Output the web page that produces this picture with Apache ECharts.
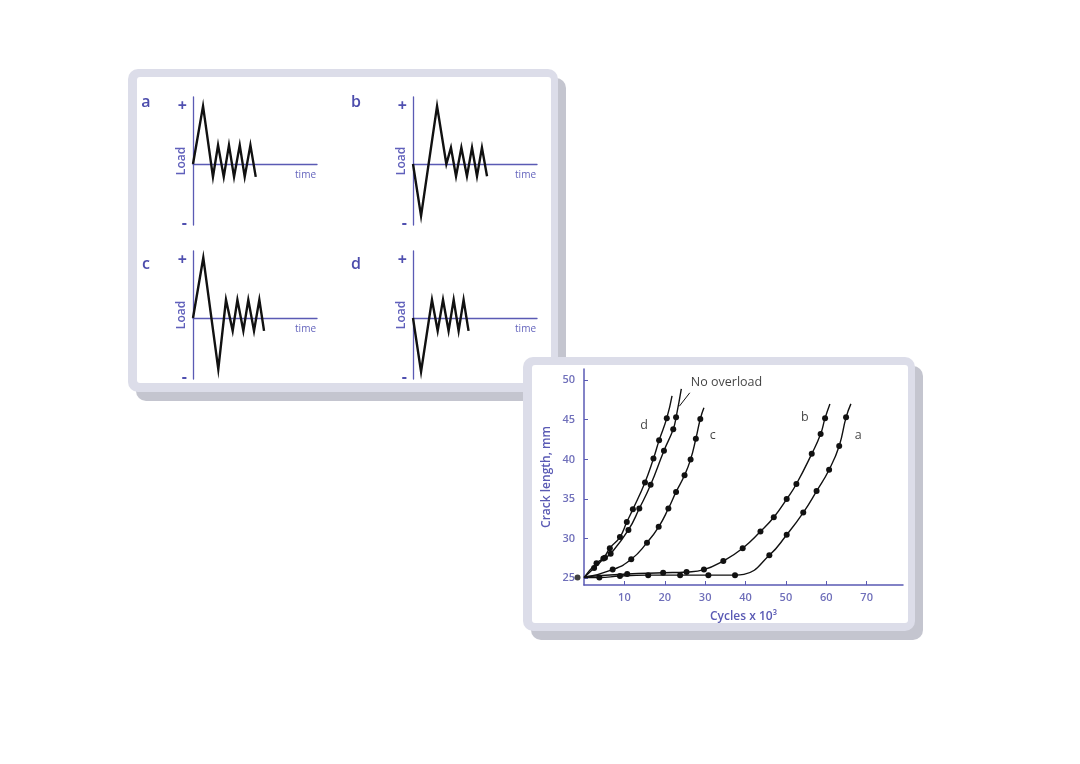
<!DOCTYPE html>
<html>
<head>
<meta charset="utf-8">
<script src="https://cdn.jsdelivr.net/npm/echarts@6/dist/echarts.min.js"></script>
<style>
html, body { margin: 0; padding: 0; background: #fff; }
#main { width: 1080px; height: 764px; }
</style>
</head>
<body>
<div id="main"></div>
<script>
// load histories: time across the axis 0-100, load normalised (1 = overload peak)
var loadA = [[0,0],[8.1,0.95],[16.1,-0.21],[20.2,0.31],[24.8,-0.21],[29,0.31],[33.1,-0.21],[37.7,0.31],[41.7,-0.21],[46.3,0.31],[50.6,-0.21]];
var loadB = [[0,0],[6.5,-0.85],[19.4,0.95],[26.9,0],[30.6,0.27],[34.7,-0.2],[39,0.27],[43.5,-0.2],[47.6,0.27],[51.6,-0.2],[55.6,0.27],[59.7,-0.2]];
var loadC = [[0,0],[8.3,0.99],[20.4,-0.84],[26.6,0.3],[32,-0.21],[35.8,0.3],[40.6,-0.21],[44.6,0.3],[49.2,-0.21],[53.5,0.3],[57.3,-0.21]];
var loadD = [[0,0],[6.5,-0.88],[15.3,0.3],[19.9,-0.21],[24.2,0.3],[28.7,-0.21],[32.8,0.3],[36.8,-0.21],[40.8,0.3],[44.8,-0.21]];
var panelNames = ['a', 'b', 'c', 'd'];
var signTicks = [-0.97, 0.95];

// crack growth: [cycles x 10^3, crack length mm]
var dotsD = [[2.5,26.3],[4.8,27.5],[6.4,28.8],[8.9,30.2],[10.6,32.1],[12.1,33.7],[15.1,37.1],[17.2,40.1],[18.6,42.4],[20.5,45.2]];
var bendsD = [[0,25.1],[21.8,48.0]];
var dotsNo = [[3.1,26.9],[5.2,27.6],[6.6,28.1],[11.0,31.1],[13.7,33.8],[16.5,36.8],[19.8,41.1],[22.1,43.8],[22.8,45.3]];
var bendsNo = [[0,25.1],[24.1,48.9]];
var dotsC = [[7.1,26.1],[11.7,27.4],[15.6,29.5],[18.5,31.5],[20.9,33.8],[22.8,35.9],[24.9,38.0],[26.4,40.0],[27.7,42.6],[28.8,45.1]];
var bendsC = [[0,25.1],[29.7,46.5]];
var dotsB = [[10.7,25.55],[19.6,25.7],[25.4,25.8],[29.7,26.1],[34.5,27.2],[39.3,28.8],[43.7,30.9],[47.0,32.7],[50.2,35.0],[52.6,36.9],[56.4,40.7],[58.6,43.2],[59.7,45.2]];
var bendsB = [[0,25.2],[60.9,47.0]];
var dotsA = [[3.8,25.1],[8.9,25.3],[15.9,25.4],[23.8,25.4],[30.8,25.4],[37.4,25.4],[45.9,27.9],[50.2,30.5],[54.3,33.3],[57.6,36.0],[60.7,38.7],[63.2,41.7],[64.9,45.3]];
var bendsA = [[0,25.1],[39.6,25.5],[66.1,47.0]];
var startDot = [[-1.6,25.1]];
var cycleTicks = [10,20,30,40,50,60,70];
var lengthTicks = [25,30,35,40,45,50];
var curveLabels = [[14.9,44.3,'d'],[31.9,43.0,'c'],[54.7,45.3,'b'],[67.9,43.0,'a']];
var noteLabel = [[35.3,49.7,'No overload']];
var noteArrow = [[26.2,48.4],[23.6,46.7]];

var chart = echarts.init(document.getElementById('main'));

var blue = '#5a5ab4';
var font = 'Open Sans';

var curve = function (dots, bends) {
    var pts = dots.map(function (p) { return { value: p }; })
        .concat(bends.map(function (p) { return { value: p, symbol: 'none' }; }));
    pts.sort(function (m, n) { return m.value[0] - n.value[0]; });
    return pts;
};

var smallGrids = [
    { left: 193, top: 97, width: 124, height: 128 },
    { left: 413, top: 97, width: 124, height: 128 },
    { left: 193, top: 251, width: 124, height: 128 },
    { left: 413, top: 251, width: 124, height: 128 }
];
var loads = [loadA, loadB, loadC, loadD];

var grids = smallGrids.slice();
grids.push({ left: 584, top: 369, width: 319, height: 216 });

var xAxes = [], yAxes = [], series = [];
smallGrids.forEach(function (g, i) {
    xAxes.push({
        type: 'value', gridIndex: i, min: 0, max: 100,
        axisLine: { lineStyle: { color: blue, width: 1.3 } },
        axisTick: { show: false }, axisLabel: { show: false }, splitLine: { show: false },
        name: 'time', nameLocation: 'end', nameGap: 0, nameMoveOverlap: false,
        nameTextStyle: { color: '#6565bd', fontSize: 10, fontFamily: font, align: 'right', verticalAlign: 'top', padding: [6, 1, 0, 0] }
    });
    yAxes.push({
        type: 'value', gridIndex: i, min: -1, max: 1.1,
        axisLine: { lineStyle: { color: blue, width: 1.3 } },
        axisTick: { show: false }, splitLine: { show: false },
        axisLabel: {
            customValues: signTicks, margin: 6,
            formatter: function (v) { return v > 0 ? '+' : '-'; },
            color: '#5050b0', fontSize: 16, fontWeight: 'bold', fontFamily: font
        },
        name: 'Load', nameLocation: 'middle', nameRotate: 90, nameGap: 5, nameMoveOverlap: false,
        nameTextStyle: { color: '#6060bb', fontSize: 12, fontWeight: 600, fontFamily: font }
    });
    series.push({
        type: 'line', xAxisIndex: i, yAxisIndex: i, data: loads[i],
        symbol: 'none', lineStyle: { color: '#111', width: 2.4, join: 'miter' }
    });
});

xAxes.push({
    type: 'value', gridIndex: 4, min: 0, max: 79,
    axisLine: { lineStyle: { color: blue, width: 1.5 } },
    axisTick: { inside: true, length: 4, customValues: cycleTicks, lineStyle: { color: blue } },
    axisLabel: { customValues: cycleTicks, color: '#6f6fba', fontSize: 11, fontWeight: 600, fontFamily: font, margin: 7 },
    splitLine: { show: false },
    name: 'Cycles x 10\u00b3', nameLocation: 'middle', nameGap: 26, nameMoveOverlap: false,
    nameTextStyle: { color: '#5a5ab4', fontSize: 12, fontWeight: 600, fontFamily: font }
});
yAxes.push({
    type: 'value', gridIndex: 4, min: 24.16, max: 51.4,
    axisLine: { lineStyle: { color: blue, width: 1.5 } },
    axisTick: { inside: true, length: 4, customValues: lengthTicks, lineStyle: { color: blue } },
    axisLabel: { customValues: lengthTicks, color: '#6f6fba', fontSize: 11, fontWeight: 600, fontFamily: font, margin: 9 },
    splitLine: { show: false },
    name: 'Crack length, mm', nameLocation: 'middle', nameRotate: 90, nameGap: 31, nameMoveOverlap: false,
    nameTextStyle: { color: '#5a5ab4', fontSize: 12, fontWeight: 600, fontFamily: font }
});

var curves = [curve(dotsD, bendsD), curve(dotsNo, bendsNo), curve(dotsC, bendsC), curve(dotsB, bendsB), curve(dotsA, bendsA)];
curves.forEach(function (d) {
    series.push({
        type: 'line', xAxisIndex: 4, yAxisIndex: 4, data: d,
        smooth: 0.5,
        symbol: 'circle', symbolSize: 6, showAllSymbol: true,
        itemStyle: { color: '#111' },
        lineStyle: { color: '#111', width: 1.4 }
    });
});
series.push({
    type: 'scatter', xAxisIndex: 4, yAxisIndex: 4, data: startDot, clip: false,
    symbolSize: 6, itemStyle: { color: '#111' }
});
series.push({
    type: 'line', xAxisIndex: 4, yAxisIndex: 4, data: noteArrow,
    symbol: 'none', lineStyle: { color: '#111', width: 1 }
});
series.push({
    type: 'scatter', xAxisIndex: 4, yAxisIndex: 4, data: curveLabels.concat(noteLabel),
    symbolSize: 0, silent: true,
    label: {
        show: true, position: 'inside', color: '#111', fontSize: 12.5, fontFamily: font,
        formatter: function (p) { return p.value[2]; }
    }
});

var frame = function (x, y, w, h, iw, ih) {
    return [
        { type: 'rect', z: -10, shape: { x: x + 8, y: y + 9, width: w, height: h, r: 10 }, style: { fill: '#c4c5cf' } },
        { type: 'rect', z: -10, shape: { x: x, y: y, width: w, height: h, r: 10 }, style: { fill: '#dcdde9' } },
        { type: 'rect', z: -10, shape: { x: x + 9, y: y + 8, width: iw, height: ih, r: 3 }, style: { fill: '#fff' } }
    ];
};
var letterPos = [[146, 102], [356, 102], [146, 264], [356, 264]];
var letters = panelNames.map(function (n, i) {
    return {
        type: 'text', z: -5, x: letterPos[i][0], y: letterPos[i][1],
        style: { text: n, fill: '#4c4cac', font: '600 16px "Open Sans"', textAlign: 'center', textVerticalAlign: 'middle' }
    };
});

chart.setOption({
    backgroundColor: '#fff',
    animation: false,
    grid: grids,
    xAxis: xAxes,
    yAxis: yAxes,
    series: series,
    graphic: frame(128, 69, 430, 323, 414, 306).concat(frame(523, 357, 392, 274, 376, 258)).concat(letters)
});
</script>
</body>
</html>
